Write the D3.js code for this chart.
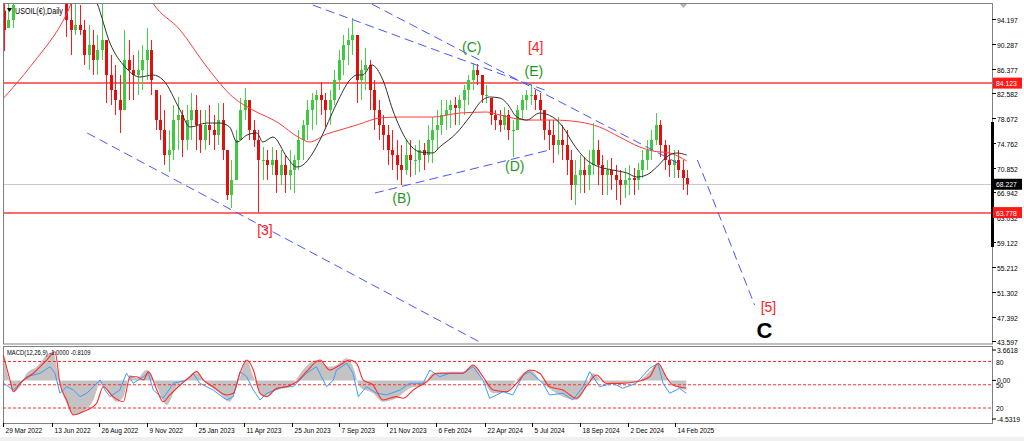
<!DOCTYPE html>
<html><head><meta charset="utf-8">
<script src="https://cdn.jsdelivr.net/npm/d3@7"></script>
<style>
html,body{margin:0;padding:0;background:#fff;overflow:hidden;}
svg{display:block;}
text{font-family:"Liberation Sans",Arial,sans-serif;}
</style></head><body>
<svg id="c" width="1024" height="441"></svg>
<script>
// ---------- DATA (weekly candles) ----------
const firstWeek = Date.UTC(2022, 2, 30);
const highs = [98.5,99,99.5,101,103,104,106,108,110,112,114,115,112,108,98,98,97.5,96.39,94.04,93.25,
92.47,91.68,96.71,90.89,88.54,86.97,85.40,92.47,90.89,88.54,89.32,90.11,92.78,90.89,83.04,82.25,79.89,76.75,80.68,81.94,
79.89,80.68,82.57,82.25,79.89,79.89,80.68,79.11,80.99,80.99,73.61,72.04,76.75,81.78,83.35,81.47,78.32,76.75,74.08,73.61,
74.08,73.61,73.61,72.82,73.61,72.82,76.75,78.32,81.47,82.57,83.04,84.30,82.57,83.04,86.18,89.32,91.68,92.78,94.35,91.68,
87.75,89.64,87.75,84.61,81.47,79.11,77.54,76.75,75.18,74.39,75.18,75.18,74.39,75.18,74.71,77.54,78.79,79.89,81.47,81.47,
81.47,81.94,82.25,83.82,85.40,87.28,87.12,85.40,83.82,81.78,79.89,79.89,80.37,79.89,78.32,80.68,82.25,83.04,83.98,83.04,
82.57,79.89,78.32,78.32,78.79,77.54,76.75,73.61,72.04,72.82,72.51,73.61,77.85,75.18,72.82,72.04,72.35,71.25,70.47,70.78,
71.25,70.78,71.57,73.61,75.18,76.75,79.42,78.32,75.18,74.39,73.61,73.61,72.04,70.47];
const lows = [89.17,92.78,92.78,97.5,98,99,100,102,104,106,107,108,104,99,91.37,88.54,91.68,91.68,86.97,86.18,
85.40,85.40,87.75,80.99,80.68,79.11,76.28,79.89,81.47,81.47,82.25,83.04,84.61,82.25,76.75,75.18,71.25,70.15,72.04,73.61,
72.51,73.61,75.18,73.61,73.14,73.61,74.39,73.61,74.39,72.04,65.75,64.50,68.89,75.18,78.32,75.18,74.08,63.78,68.89,68.89,
69.68,66.85,68.11,66.85,67.32,66.85,70.47,72.04,75.18,76.75,77.54,79.11,77.22,77.54,80.68,83.04,85.40,86.97,88.54,80.99,
81.47,83.04,79.89,76.75,75.18,73.61,71.25,70.47,68.89,68.11,69.68,69.37,69.68,70.15,70.47,71.57,71.57,73.61,75.97,76.75,
77.07,77.54,77.54,79.11,80.68,83.04,83.82,80.99,80.99,77.54,76.75,76.44,76.75,75.18,72.51,76.75,78.32,79.89,80.68,79.89,
78.32,75.18,73.61,71.57,72.82,72.04,69.68,65.75,64.97,66.85,66.85,67.32,69.68,68.11,66.54,66.54,67.32,65.75,64.97,66.07,
66.54,66.54,67.32,69.21,70.47,72.04,74.39,72.51,70.47,69.37,69.21,69.21,67.32,66.54];
const closes = [92.47,94.04,96.4,99,101,102,104,106,108,110,112,110,106,101,94.04,92.47,93.25,92.47,88.54,90.11,
87.75,89.32,90.89,85.40,83.04,81.47,79.89,87.75,86.18,85.40,86.18,87.75,89.32,84.61,78.32,76.75,72.82,73.61,78.32,79.11,
75.18,78.32,79.89,77.54,75.18,77.54,76.75,75.97,78.32,73.61,66.54,68.89,75.18,79.89,81.47,76.75,75.18,72.04,72.04,71.25,
72.04,69.68,71.25,69.68,70.47,72.04,75.18,77.54,79.89,81.47,82.25,81.47,79.89,81.47,84.61,87.75,90.11,90.89,91.68,84.61,
86.18,86.97,83.04,79.89,77.54,75.97,73.61,72.82,71.25,70.47,72.82,72.04,72.04,73.61,72.82,75.18,76.75,77.54,79.11,79.89,
80.68,80.21,81.47,83.04,84.61,86.18,85.40,82.25,82.25,79.11,78.32,77.54,79.11,76.75,76.75,79.89,81.47,82.25,82.25,81.47,
79.89,76.75,75.97,74.39,75.18,74.39,72.04,68.11,69.68,70.47,69.68,71.25,73.61,71.25,69.68,70.47,69.68,68.89,68.11,68.89,
69.21,68.89,70.47,72.04,73.61,75.18,77.54,74.39,72.04,71.25,72.04,70.47,69.21,68.227];
const firstOpen = 95.5;

// moving averages: [week index, price]
const maFast = [[18.9,99.54],[20.9,96.71],[23.8,90.42],[27.2,86.65],[30.5,85.08],[33.4,85.40],[35.7,84.61],[39.5,79.89],[41.7,77.22],[45.5,77.85],[48.4,77.85],[50.6,77.22],[52.2,74.87],[54.5,75.97],[56.7,76.28],[58.0,74.87],[60.3,75.65],[63.4,72.51],[65.6,70.94],[67.0,71.25],[69.2,73.14],[70.8,75.18],[74.6,80.99],[77.5,84.61],[79.1,85.40],[80.4,85.40],[82.4,86.97],[84.9,84.61],[87.1,79.89],[90.2,75.18],[93.2,73.30],[96.1,73.14],[97.6,74.08],[101.4,76.28],[104.3,78.79],[107.2,81.47],[108.8,81.94],[111.1,81.78],[112.6,80.99],[114.9,78.79],[117.1,78.32],[120.0,79.42],[122.9,78.79],[125.2,77.22],[127.4,74.71],[130.5,72.04],[133.4,70.94],[136.3,70.47],[139.5,70.00],[141.7,69.37],[143.9,69.68],[146.2,70.94],[148.4,72.51],[150.7,73.14],[152.9,72.82]];
const maSlow = [[-0.8,81.15],[6.6,87.28],[14.2,95.14],[16.0,97.97],[21.6,101.1],[28.3,101.1],[32.3,97.97],[33.4,96.71],[39.5,92.47],[45.5,86.65],[51.3,81.94],[55.8,79.89],[61.2,78.01],[66.3,75.50],[68.5,74.87],[72.3,76.12],[75.3,76.75],[79.7,77.69],[84.2,78.64],[88.7,78.79],[96.1,78.79],[102.1,79.42],[108.1,79.58],[111.1,79.11],[117.1,78.32],[122.9,78.32],[128.9,78.01],[133.4,77.22],[137.9,75.65],[142.4,74.08],[145.3,73.45],[149.1,73.14],[152.9,71.88]];

// MACD panel: [week index, value]
const macdMain = [[0,2.52],[1.05,0.39],[2.17,-1.20],[3.67,-0.67],[5.17,0.76],[7.4,1.46],[9.64,2.70],[11.12,3.05],[12.0,1.11],[12.6,-0.31],[14.1,-2.44],[15.6,-3.68],[17.8,-3.33],[20.1,-2.09],[21.6,-0.31],[23.1,-1.02],[25.3,-2.27],[26.8,-1.73],[28.3,0.57],[29.8,0.22],[32.0,1.11],[34.3,-0.67],[36.5,-2.62],[38.7,-0.67],[41.0,0.04],[43.2,0.76],[45.4,-0.31],[48.4,-1.37],[50.6,-2.27],[52.9,0.39],[54.4,2.17],[55.9,0.39],[58.1,-1.73],[61.1,-1.02],[64.1,-0.67],[67.0,1.11],[70.0,2.17],[73.0,1.46],[74.5,1.64],[76.8,2.35],[78.2,1.46],[79.7,-0.67],[82.7,-1.37],[84.9,-2.27],[87.9,-1.90],[90.9,-0.84],[93.9,-0.49],[96.1,0.76],[99.9,0.93],[102.8,0.93],[105.1,1.64],[107.3,0.04],[109.6,-1.37],[112.6,-1.20],[114.8,0.04],[117.8,1.11],[120.7,-0.31],[123.7,-1.37],[128.2,-2.09],[130.4,-0.67],[131.9,0.76],[134.1,-0.14],[137.9,-0.31],[141.6,-0.14],[144.6,0.93],[146.5,1.82],[148.3,0.39],[150.6,-0.67],[152.8,-1.0]];
const macdSignal = [[-0.07,2.70],[1.43,0.04],[2.17,-1.20],[3.67,-0.31],[6.64,0.76],[9.64,2.17],[11.5,3.05],[12.6,-0.31],[14.1,-2.09],[15.6,-3.68],[17.8,-3.33],[20.8,-2.44],[22.3,-0.67],[24.5,-1.73],[26.8,-2.27],[28.3,0.39],[29.8,0.39],[31.3,0.04],[32.4,0.93],[34.3,-1.02],[35.7,-2.27],[37.2,-1.55],[39.5,-0.49],[41.7,0.39],[43.2,0.93],[44.7,0.04],[46.9,-0.67],[49.9,-1.55],[51.4,-1.37],[52.9,0.76],[54.4,2.17],[55.9,1.11],[57.4,-1.37],[58.9,-1.73],[61.1,-0.84],[63.3,-0.67],[65.6,-0.14],[67.8,0.93],[70.8,2.17],[73.0,1.11],[75.3,1.64],[77.5,2.17],[79.0,1.82],[80.5,0.04],[82.7,-0.49],[84.9,-2.09],[87.9,-1.73],[89.4,-1.90],[91.7,-1.02],[94.7,-0.14],[96.9,0.76],[99.9,0.76],[102.8,0.76],[105.1,1.64],[107.3,0.39],[109.6,-1.02],[112.6,-1.20],[114.8,-0.31],[117.8,1.11],[120.0,0.76],[122.2,-0.67],[125.2,-1.02],[128.2,-1.90],[130.4,-0.67],[132.7,0.57],[134.9,-0.31],[137.9,-0.31],[141.6,-0.14],[144.6,0.39],[146.5,1.82],[148.3,0.39],[149.8,-0.49],[152.8,-0.81]];
const oscLine = [[0,51.9],[2.17,43.2],[3.67,51.9],[5.17,60.4],[8.14,64.8],[10.38,73.3],[11.5,64.8],[12.6,39.0],[14.1,47.5],[15.6,43.2],[17.1,34.6],[18.6,39.0],[20.1,47.5],[21.6,56.1],[22.7,43.2],[23.8,34.6],[26.0,43.2],[27.5,64.8],[29.0,51.9],[31.3,60.4],[32.4,64.8],[33.5,43.2],[35.7,32.5],[38.0,51.9],[41.0,56.1],[42.4,64.8],[43.9,51.9],[46.9,43.2],[49.9,30.3],[51.4,34.6],[52.9,66.8],[54.4,60.4],[55.9,43.2],[57.4,30.3],[58.9,39.0],[62.6,47.5],[64.8,47.5],[67.8,64.8],[70.0,73.3],[72.3,47.5],[73.8,56.1],[74.5,69.0],[76.8,77.7],[78.2,64.8],[79.4,34.6],[81.2,47.5],[83.5,39.0],[85.7,36.8],[88.7,43.2],[90.9,51.9],[93.9,51.9],[95.4,69.0],[97.6,60.4],[99.9,64.8],[102.8,64.8],[105.1,73.3],[107.3,56.1],[108.8,32.5],[111.8,41.0],[114.0,36.8],[116.3,62.6],[117.8,66.8],[120.7,51.9],[122.2,36.8],[125.2,39.0],[127.4,30.3],[129.7,47.5],[131.2,66.8],[133.4,47.5],[136.4,51.9],[138.6,45.4],[141.6,51.9],[144.6,71.2],[146.5,77.7],[147.6,51.9],[149.1,39.0],[151.3,45.4],[152.8,39.0]];
const oscLevels = [80, 50, 20];

// axes
const priceTicks = [94.197,90.287,86.377,82.582,78.672,74.762,70.852,66.942,63.032,59.122,55.212,51.302,47.392,43.597];
const dateTicks = ["2022-03-29","2022-06-13","2022-08-26","2022-11-09","2023-01-25","2023-04-11","2023-06-25","2023-09-07","2023-11-21","2024-02-06","2024-04-22","2024-07-05","2024-09-18","2024-12-02","2025-02-14"];
const levelLines = [84.123, 63.778];
const lastPrice = 68.227;

// annotations: trend lines [[week, price],[week, price]] and wave labels
const trendLines = [
  [[69.2,96.39],[121.1,83.04]],
  [[79.7,97.53],[151.3,71.41]],
  [[83.1,66.85],[122.2,73.61]],
  [[18.7,76.28],[107.0,43.28]],
  [[155.3,72.04],[168.1,49.25]]
];
const waveLabels = [
  {t:"[3]", w:58.5, p:60.25, kind:"red"},
  {t:"(B)", w:89.1, p:65.28, kind:"green"},
  {t:"(C)", w:104.8, p:89.01, kind:"green"},
  {t:"[4]", w:119.1, p:89.01, kind:"red"},
  {t:"(E)", w:118.7, p:85.24, kind:"green"},
  {t:"(D)", w:114.4, p:70.31, kind:"green"},
  {t:"[5]", w:171.2, p:48.15, kind:"red"},
  {t:"C", w:170.3, p:44.07, kind:"big"}
];

// ---------- DRAW ----------
const svg = d3.select("#c");
const DAY = 864e5;
const wd = i => new Date(firstWeek + i * 7 * DAY);
const x = d3.scaleUtc().domain([Date.UTC(2022,2,29), Date.UTC(2025,1,14)]).range([3, 675]);
const y = d3.scaleLinear().domain([43.597, 94.197]).range([341, 19]);
const yM = d3.scaleLinear().domain([-4.5319, 3.6618]).range([423, 346]);
const yO = d3.scaleLinear().domain([0, 100]).range([423.5, 346]);
const L = 3, R = 992, T = 3, B = 343.5, MT = 346, MB = 423;

// condensed small text (MT4-like)
function stext(g, tx, ty, str, size, fill, sx) {
  return g.append("text").attr("transform", `translate(${tx},${ty}) scale(${sx || 0.83},1)`)
    .attr("font-size", size).attr("fill", fill).text(str);
}

svg.append("rect").attr("x",0).attr("y",437).attr("width",1024).attr("height",4).attr("fill","#f0f0f0");

const defs = svg.append("defs");
defs.append("clipPath").attr("id","cm").append("rect").attr("x",L).attr("y",T).attr("width",R-L).attr("height",B-T);
defs.append("clipPath").attr("id","cd").append("rect").attr("x",L).attr("y",MT).attr("width",R-L).attr("height",MB-MT);

const main = svg.append("g").attr("clip-path","url(#cm)");

// horizontal levels
main.append("line").attr("x1",L).attr("x2",R).attr("y1",Math.round(y(lastPrice))+0.5).attr("y2",Math.round(y(lastPrice))+0.5).attr("stroke","#c8c8c8");
levelLines.forEach(v => {
  const yy = Math.round(y(v));
  main.append("line").attr("x1",L).attr("x2",R).attr("y1",yy).attr("y2",yy).attr("stroke","#ff3a3a").attr("stroke-width",1.4);
});

// candles
const candles = closes.map((c, i) => {
  const h = highs[i], l = lows[i];
  let o = i ? closes[i-1] : firstOpen;
  o = Math.max(l, Math.min(h, o));
  return {i, o, h, l, c};
});
const cg = main.append("g");
candles.forEach(d => {
  const xx = Math.round(x(wd(d.i)));
  const up = d.c >= d.o;
  const col = up ? "#48d048" : "#ff1a1a";
  cg.append("line").attr("x1",xx+0.5).attr("x2",xx+0.5).attr("y1",y(d.h)).attr("y2",y(d.l)).attr("stroke",col).attr("stroke-width",1);
  const top = y(Math.max(d.o,d.c)), bot = y(Math.min(d.o,d.c));
  cg.append("rect").attr("x",xx-1).attr("y",top).attr("width",3).attr("height",Math.max(1,bot-top))
    .attr("fill", up ? "#40c840" : "#e01010");
});

// moving averages
const maLine = d3.line().x(d => x(wd(d[0]))).y(d => y(d[1])).curve(d3.curveMonotoneX);
main.append("path").attr("d",maLine(maSlow)).attr("fill","none").attr("stroke","#ff3b3b").attr("stroke-width",1);
main.append("path").attr("d",maLine(maFast)).attr("fill","none").attr("stroke","#303030").attr("stroke-width",1);

// trend lines
trendLines.forEach(tl => {
  main.append("line")
    .attr("x1",x(wd(tl[0][0]))).attr("y1",y(tl[0][1]))
    .attr("x2",x(wd(tl[1][0]))).attr("y2",y(tl[1][1]))
    .attr("stroke","#4a55ff").attr("stroke-width",1).attr("stroke-dasharray","9,5");
});

// wave labels
waveLabels.forEach(d => {
  const t = main.append("text").attr("x",x(wd(d.w))).attr("y",y(d.p)).attr("text-anchor","middle").text(d.t);
  if (d.kind === "big") t.attr("font-size",22).attr("font-weight","bold").attr("fill","#000");
  else t.attr("font-size",14).attr("fill", d.kind === "red" ? "#ff2020" : "#1e961e");
});

// small shift marker
svg.append("path").attr("d","M679,3 L688,3 L683.5,8 Z").attr("fill","#b0b0b0");

// title
svg.append("path").attr("d","M7,8 L12,8 L9.5,12 Z").attr("fill","#000");
stext(svg, 15, 14, "USOIL(€),Daily", 8.5, "#000", 0.84);

// frames
svg.append("rect").attr("x",L+0.5).attr("y",T+0.5).attr("width",R-L).attr("height",B-T).attr("fill","none").attr("stroke","#808080");
svg.append("rect").attr("x",L+0.5).attr("y",MT+0.5).attr("width",R-L).attr("height",MB-MT).attr("fill","none").attr("stroke","#808080");
svg.append("line").attr("x1",R+0.5).attr("x2",R+0.5).attr("y1",122).attr("y2",247).attr("stroke","#000").attr("stroke-width",3);

// price axis
const pa = svg.append("g");
priceTicks.forEach(v => {
  const yy = Math.round(y(v)) + 0.5;
  pa.append("line").attr("x1",R).attr("x2",R+4).attr("y1",yy).attr("y2",yy).attr("stroke","#000");
  stext(pa, R+5, yy+3, v.toFixed(3), 8, "#000", 0.85);
});
function tag(v, bg) {
  const yy = y(v);
  pa.append("rect").attr("x",R+1).attr("y",yy-5.5).attr("width",29).attr("height",11).attr("fill",bg);
  stext(pa, R+4, yy+3, v.toFixed(3), 8, "#fff", 0.85);
}
levelLines.forEach(v => tag(v, "#ff1a1a"));
tag(lastPrice, "#000");

// MACD panel
const mg = svg.append("g").attr("clip-path","url(#cd)");
mg.append("path").attr("d", d3.area().x(d => x(wd(d[0]))).y0(yM(0)).y1(d => yM(d[1])).curve(d3.curveMonotoneX)(macdMain))
  .attr("fill","#c3c3c3");
oscLevels.forEach(v => {
  mg.append("line").attr("x1",L).attr("x2",R).attr("y1",yO(v)).attr("y2",yO(v)).attr("stroke","#ff3030").attr("stroke-dasharray","3,2");
});
mg.append("path").attr("d", d3.line().x(d => x(wd(d[0]))).y(d => yO(d[1]))(oscLine))
  .attr("fill","none").attr("stroke","#3d9bff").attr("stroke-width",1);
mg.append("path").attr("d", d3.line().x(d => x(wd(d[0]))).y(d => yM(d[1])).curve(d3.curveMonotoneX)(macdSignal))
  .attr("fill","none").attr("stroke","#ff2a2a").attr("stroke-width",1.1);
stext(svg, 7, 355, "MACD(12,26,9) -1.0000 -0.8109", 7.5, "#000", 0.78);

const ma = svg.append("g");
const macdAxis = [[yM(3.6618)+4, "3.6618"], [yM(0), "0.00"], [yM(-4.5319)-4, "-4.5319"]];
macdAxis.forEach(d => {
  ma.append("line").attr("x1",R).attr("x2",R+4).attr("y1",d[0]).attr("y2",d[0]).attr("stroke","#000");
  stext(ma, R+5, d[0]+3, d[1], 8, "#000", 0.85);
});
oscLevels.forEach(v => {
  stext(ma, R+4, yO(v)+3, String(v), 8, "#000", 0.85);
});

// time axis
const ta = svg.append("g");
dateTicks.forEach(s => {
  const dt = new Date(s + "T00:00:00Z");
  const xx = Math.round(x(dt)) + 0.5;
  ta.append("line").attr("x1",xx).attr("x2",xx).attr("y1",MB).attr("y2",MB+4).attr("stroke","#000");
  stext(ta, xx+2, 433, d3.utcFormat("%-d %b %Y")(dt), 8, "#000", 0.82);
});
</script>
</body></html>
